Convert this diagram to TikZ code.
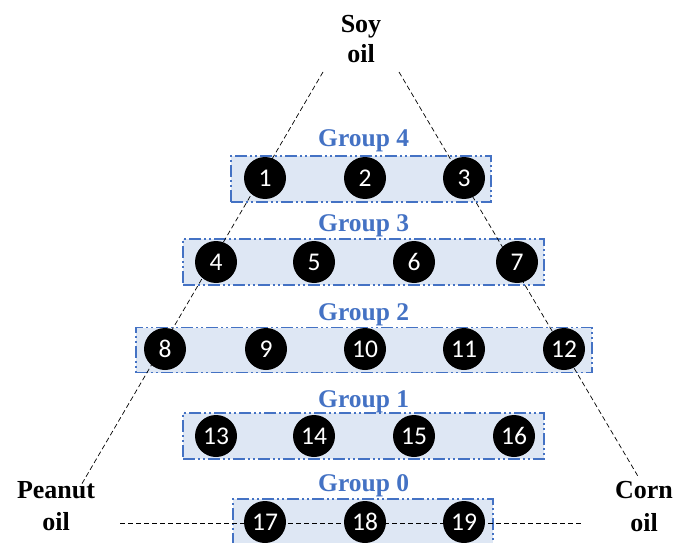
\documentclass[tikz,border=0pt]{standalone}
\usepackage{fontspec}
\setmainfont{Liberation Serif}
\newfontfamily\numfont{Carlito}
\definecolor{grpblue}{HTML}{4472C4}
\definecolor{grpfill}{HTML}{DEE7F4}
\begin{document}
\begin{tikzpicture}[x=1pt,y=-1pt,
  grpbox/.style={draw=grpblue, fill=grpfill, line width=1.6pt, inner sep=0pt,
    dash pattern=on 12pt off 3pt on 2pt off 3pt on 2pt off 3pt},
  grplabel/.style={text=grpblue, font=\fontsize{25.5}{30}\selectfont\bfseries, anchor=base west, inner sep=0pt},
  oillabel/.style={font=\fontsize{26}{31}\selectfont\bfseries, align=center, inner sep=0pt, anchor=base},
  ball/.style={circle, fill=black, minimum size=42pt, inner sep=0pt, text=white,
    font=\numfont\fontsize{25.5}{28}\selectfont},
  guide/.style={black, line width=0.7pt, dash pattern=on 5pt off 3pt}]
\useasboundingbox (0,0) rectangle (675,543);
% group boxes
\node[grpbox, minimum width=260pt, minimum height=46pt] (g4) at (361,179) {};
\node[grpbox, minimum width=361pt, minimum height=46pt] (g3) at (363.5,262) {};
\node[grpbox, minimum width=456pt, minimum height=45pt] (g2) at (364,350) {};
\node[grpbox, minimum width=361pt, minimum height=46pt] (g1) at (363.5,436) {};
\node[grpbox, minimum width=260pt, minimum height=46pt] (g0) at (363,522) {};
% group labels
\node[grplabel] (l4) at (318,146) {Group 4};
\node[grplabel] (l3) at (318,231) {Group 3};
\node[grplabel] (l2) at (318,320) {Group 2};
\node[grplabel] (l1) at (318,407) {Group 1};
\node[grplabel] (l0) at (318,491) {Group 0};
% oil labels
\node[oillabel, font=\fontsize{26}{30}\selectfont\bfseries] (soy) at (361,63) {Soy\\oil};
\node[oillabel, font=\fontsize{26}{32}\selectfont\bfseries] (peanut) at (56,530) {Peanut\\oil};
\node[oillabel, font=\fontsize{26}{33}\selectfont\bfseries] (corn) at (644,531) {Corn\\oil};
% guide lines
\coordinate (soyL) at (323,72);
\coordinate (peanutEnd) at (80,487);
\coordinate (soyR) at (399,72);
\coordinate (cornEnd) at (639,478);
\coordinate (baseL) at (120,523);
\coordinate (baseR) at (582,523);
\draw[guide] (soyL) -- (peanutEnd);
\draw[guide] (soyR) -- (cornEnd);
\draw[guide] (baseL) -- (baseR);
% balls
\node[ball] (c1) at (265,178) {1};
\node[ball] (c2) at (365,178) {2};
\node[ball] (c3) at (464,178) {3};
\node[ball] (c4) at (216,262) {4};
\node[ball] (c5) at (314,262) {5};
\node[ball] (c6) at (414,262) {6};
\node[ball] (c7) at (517,262) {7};
\node[ball] (c8) at (165,349) {8};
\node[ball] (c9) at (266,349) {9};
\node[ball] (c10) at (365,349) {10};
\node[ball] (c11) at (464,349) {11};
\node[ball] (c12) at (564,349) {12};
\node[ball] (c13) at (216,436) {13};
\node[ball] (c14) at (314,436) {14};
\node[ball] (c15) at (414,436) {15};
\node[ball] (c16) at (514,436) {16};
\node[ball] (c17) at (265,522) {17};
\node[ball] (c18) at (365,522) {18};
\node[ball] (c19) at (464,522) {19};
\end{tikzpicture}
\end{document}
